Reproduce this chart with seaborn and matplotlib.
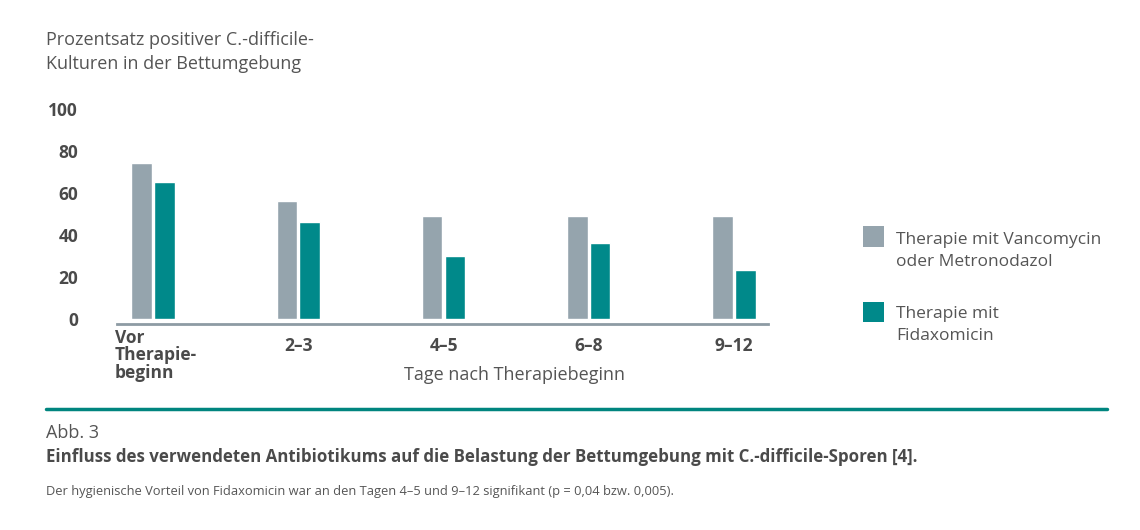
import matplotlib
matplotlib.use("Agg")
import matplotlib.pyplot as plt
import seaborn as sns
import pandas as pd
from matplotlib.lines import Line2D
from matplotlib.patches import Rectangle

# ---- data ----
categories = ["Vor\nTherapie-\nbeginn", "2–3", "4–5", "6–8", "9–12"]
series_names = ["Therapie mit Vancomycin\noder Metronodazol", "Therapie mit\nFidaxomicin"]
vanco_values = [74, 56, 49, 49, 49]
fidaxo_values = [65, 46, 30, 36, 23]
y_ticks = [0, 20, 40, 60, 80, 100]

y_title = "Prozentsatz positiver C.-difficile-\nKulturen in der Bettumgebung"
x_title = "Tage nach Therapiebeginn"
fig_no = "Abb. 3"
caption = "Einfluss des verwendeten Antibiotikums auf die Belastung der Bettumgebung mit C.-difficile-Sporen [4]."
footnote = "Der hygienische Vorteil von Fidaxomicin war an den Tagen 4–5 und 9–12 signifikant (p = 0,04 bzw. 0,005)."

colors = ["#95a4ad", "#00898a"]
dark = "#4a4a4a"
mid = "#555555"

df = pd.DataFrame({
    "Tage": categories * 2,
    "Therapie": [series_names[0]] * len(categories) + [series_names[1]] * len(categories),
    "Wert": vanco_values + fidaxo_values,
})

sns.set_theme(style="white")
plt.rcParams["font.family"] = ["Open Sans", "DejaVu Sans"]

W, H = 1140, 530
fig = plt.figure(figsize=(W / 100, H / 100), dpi=100)
ax = fig.add_axes([117 / W, 1 - 318.5 / H, 651 / W, (318.5 - 109) / H])

sns.barplot(data=df, x="Tage", y="Wert", hue="Therapie", palette=colors,
            width=0.312, gap=0.1, saturation=1, legend=False, ax=ax)

ax.set_xlim(-0.248, 4.234)
ax.set_ylim(0, 100)
ax.set_yticks(y_ticks)
ax.set_yticklabels([str(t) for t in y_ticks])
ax.set_xticks(range(len(categories)))
ax.set_xticklabels([""] + categories[1:])
ax.tick_params(axis="y", length=0, pad=28, labelsize=12.5, labelcolor=dark)
ax.tick_params(axis="x", length=0, pad=9, labelsize=12.5, labelcolor=dark)
ax.set_xlabel("")
ax.set_ylabel("")
for s in ["top", "right", "left"]:
    ax.spines[s].set_visible(False)
ax.spines["bottom"].set_position(("outward", 4))
ax.spines["bottom"].set_color("#8d9ba4")
ax.spines["bottom"].set_linewidth(2)

# first category label, left aligned under axis start
fig.text(115 / W, 1 - 329 / H, categories[0], ha="left", va="top",
         fontsize=12.5, fontweight="bold", color=dark, linespacing=0.95)

# axis titles
fig.text(46 / W, 1 - 31 / H, y_title, ha="left", va="top", fontsize=13, color=mid, linespacing=1.45)
fig.text(515 / W, 1 - 375 / H, x_title, ha="center", va="center", fontsize=13, color=mid)

# legend
leg_y = [226.5, 301.5]
leg_text_off = [5, 4]
for col, name, yy, off in zip(colors, series_names, leg_y, leg_text_off):
    fig.add_artist(Rectangle((863 / W, 1 - (yy + 20.5) / H), 20.5 / W, 20.5 / H,
                             transform=fig.transFigure, facecolor=col, edgecolor="none"))
    fig.text(896 / W, 1 - (yy + off) / H, name, ha="left", va="top", fontsize=12.5,
             color=mid, linespacing=1.55)

# separator line
fig.add_artist(Line2D([46 / W, 1107 / W], [1 - 409 / H, 1 - 409 / H],
                      transform=fig.transFigure, color="#00857f", linewidth=2.5))

fig.text(46 / W, 1 - 433 / H, fig_no, ha="left", va="center", fontsize=13, color=mid)
fig.text(46 / W, 1 - 457 / H, caption, ha="left", va="center", fontsize=12.2,
         fontweight="bold", color=dark)
fig.text(46 / W, 1 - 492 / H, footnote, ha="left", va="center", fontsize=9.3, color=mid)

fig.canvas.draw()
for lab in ax.get_xticklabels() + ax.get_yticklabels():
    lab.set_fontweight("bold")

fig.savefig("out.png", dpi=100, facecolor="white")
